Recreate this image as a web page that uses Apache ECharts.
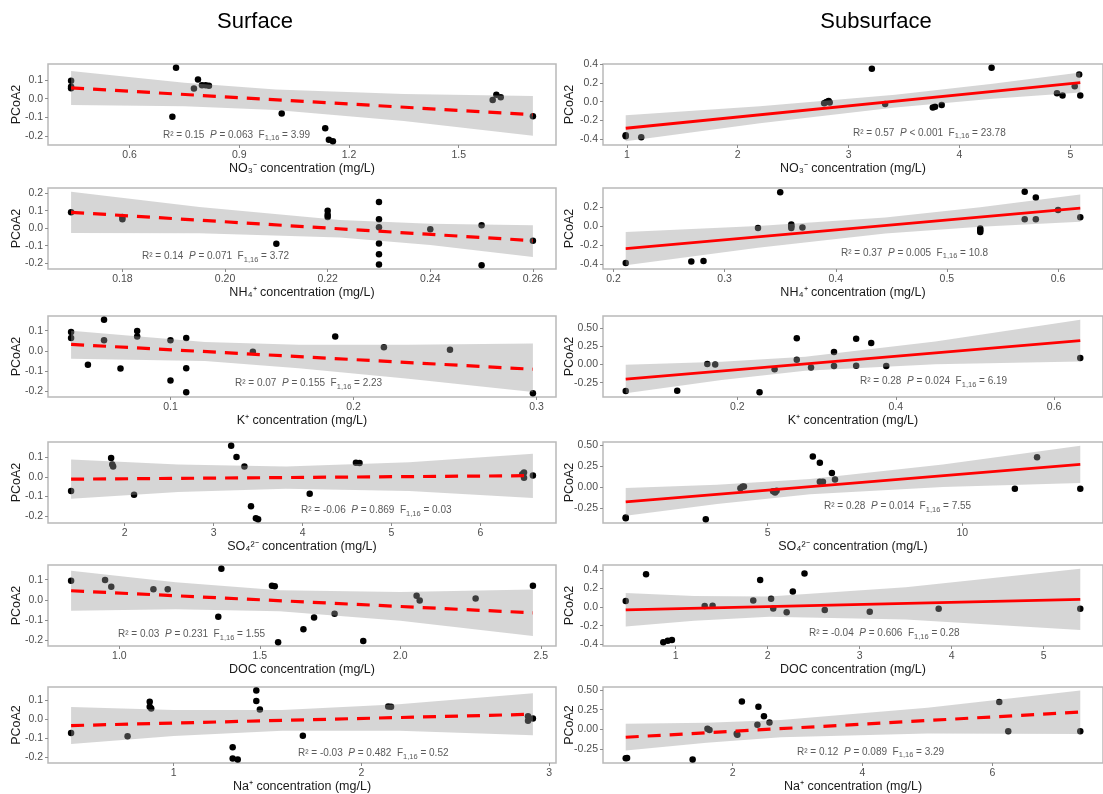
<!DOCTYPE html>
<html>
<head>
<meta charset="utf-8">
<script src="https://cdn.jsdelivr.net/npm/echarts@6.0.0/dist/echarts.min.js"></script>
<style>
  html, body { margin: 0; padding: 0; background: #fff; }
  #chart { width: 1103px; height: 794px; }
</style>
</head>
<body>
<div id="chart"></div>
<script>
// ---- Surface: NO3-
const no3SurfX = [0.44, 0.44, 0.44, 0.717, 0.727, 0.776, 0.787, 0.798, 0.808, 0.817, 1.016, 1.135, 1.145, 1.156, 1.593, 1.603, 1.615, 1.703];
const no3SurfY = [0.095, 0.063, 0.055, -0.096, 0.164, 0.054, 0.102, 0.071, 0.071, 0.068, -0.079, -0.157, -0.218, -0.226, -0.007, 0.02, 0.007, -0.093];
const no3SurfFit = [0.057, -0.085];
const no3SurfBandX = [0.44, 0.75, 1.0, 1.35, 1.703];
const no3SurfBandLo = [-0.033, -0.04, -0.06, -0.118, -0.197];
const no3SurfBandHi = [0.147, 0.084, 0.048, 0.024, 0.014];
const no3SurfXTicks = [0.6, 0.9, 1.2, 1.5];

// ---- Subsurface: NO3-
const no3SubX = [0.99, 0.99, 1.13, 2.78, 2.80, 2.82, 2.83, 3.21, 3.33, 3.76, 3.78, 3.84, 4.29, 4.88, 4.93, 5.04, 5.08, 5.09];
const no3SubY = [-0.36, -0.37, -0.382, -0.018, -0.005, 0.008, -0.01, 0.353, -0.025, -0.062, -0.055, -0.036, 0.364, 0.091, 0.065, 0.164, 0.29, 0.065];
const no3SubFit = [-0.285, 0.205];
const no3SubBandX = [0.99, 2.2, 3.42, 4.3, 5.09];
const no3SubBandLo = [-0.425, -0.232, -0.062, 0.03, 0.097];
const no3SubBandHi = [-0.145, -0.049, 0.074, 0.192, 0.313];
const no3SubXTicks = [1, 2, 3, 4, 5];

// ---- Surface: NH4+
const nh4SurfX = [0.17, 0.18, 0.18, 0.21, 0.22, 0.22, 0.22, 0.23, 0.23, 0.23, 0.23, 0.23, 0.23, 0.24, 0.25, 0.25, 0.26];
const nh4SurfY = [0.091, 0.064, 0.052, -0.089, 0.1, 0.077, 0.064, 0.15, 0.052, 0.006, -0.087, -0.149, -0.207, -0.006, 0.017, -0.212, -0.071];
const nh4SurfFit = [0.091, -0.071];
const nh4SurfBandX = [0.17, 0.195, 0.2224, 0.24, 0.26];
const nh4SurfBandLo = [-0.027, -0.029, -0.053, -0.096, -0.165];
const nh4SurfBandHi = [0.209, 0.121, 0.047, 0.026, 0.017];
const nh4SurfXTicks = [0.18, 0.20, 0.22, 0.24, 0.26];

// ---- Subsurface: NH4+
const nh4SubX = [0.211, 0.27, 0.281, 0.33, 0.35, 0.36, 0.36, 0.36, 0.37, 0.53, 0.53, 0.53, 0.57, 0.57, 0.58, 0.58, 0.60, 0.62];
const nh4SubY = [-0.386, -0.372, -0.365, -0.018, 0.355, 0.018, 0.0, -0.018, -0.014, -0.025, -0.043, -0.061, 0.362, 0.072, 0.3, 0.072, 0.17, 0.094];
const nh4SubFit = [-0.236, 0.189];
const nh4SubBandX = [0.211, 0.33, 0.4446, 0.53, 0.62];
const nh4SubBandLo = [-0.411, -0.2255, -0.078, -0.006, 0.046];
const nh4SubBandHi = [-0.061, 0.0015, 0.092, 0.198, 0.332];
const nh4SubXTicks = [0.2, 0.3, 0.4, 0.5, 0.6];

// ---- Surface: K+
const kSurfX = [0.0457, 0.0457, 0.0549, 0.0637, 0.0637, 0.0727, 0.0818, 0.0818, 0.1, 0.1, 0.1086, 0.1086, 0.1086, 0.145, 0.19, 0.2166, 0.2527, 0.298];
const kSurfY = [0.094, 0.064, -0.069, 0.155, 0.053, -0.088, 0.099, 0.071, 0.053, -0.148, 0.064, -0.087, -0.207, -0.005, 0.071, 0.018, 0.005, -0.212];
const kSurfFit = [0.032, -0.092];
const kSurfBandX = [0.0457, 0.1188, 0.17, 0.23, 0.298];
const kSurfBandLo = [-0.04, -0.0515, -0.0875, -0.14, -0.205];
const kSurfBandHi = [0.1, 0.0437, 0.03, 0.03, 0.036];
const kSurfXTicks = [0.1, 0.2, 0.3];

// ---- Subsurface: K+
const kSubX = [0.059, 0.124, 0.162, 0.172, 0.228, 0.247, 0.275, 0.275, 0.293, 0.322, 0.322, 0.35, 0.35, 0.369, 0.388, 0.633];
const kSubY = [-0.363, -0.359, 0.005, 0.0, -0.382, -0.065, 0.359, 0.065, -0.042, 0.168, -0.023, 0.35, -0.019, 0.293, -0.023, 0.089];
const kSubFit = [-0.2, 0.326];
const kSubBandX = [0.059, 0.18, 0.2856, 0.45, 0.633];
const kSubBandLo = [-0.395, -0.213, -0.088, 0.002, 0.041];
const kSubBandHi = [-0.005, 0.035, 0.103, 0.314, 0.611];
const kSubXTicks = [0.2, 0.4, 0.6];

// ---- Surface: SO4 2-
const so4SurfX = [1.397, 1.847, 1.86, 1.87, 2.105, 3.197, 3.257, 3.346, 3.42, 3.475, 3.5, 4.08, 4.6, 4.64, 6.47, 6.49, 6.49, 6.59];
const so4SurfY = [-0.072, 0.096, 0.063, 0.053, -0.092, 0.159, 0.101, 0.053, -0.15, -0.212, -0.217, -0.087, 0.072, 0.07, 0.013, 0.022, -0.005, 0.007];
const so4SurfFit = [-0.012, 0.006];
const so4SurfBandX = [1.397, 2.6, 3.813, 5.2, 6.59];
const so4SurfBandLo = [-0.112, -0.078, -0.061, -0.073, -0.108];
const so4SurfBandHi = [0.088, 0.063, 0.053, 0.075, 0.118];
const so4SurfXTicks = [2, 3, 4, 5, 6];

// ---- Subsurface: SO4 2-
const so4SubX = [1.354, 1.354, 3.41, 4.30, 4.35, 4.39, 5.14, 5.19, 5.23, 6.16, 6.34, 6.34, 6.42, 6.65, 6.73, 11.35, 11.92, 13.03];
const so4SubY = [-0.359, -0.37, -0.382, -0.012, 0.004, 0.008, -0.048, -0.064, -0.044, 0.363, 0.29, 0.064, 0.064, 0.167, 0.092, -0.02, 0.355, -0.02];
const so4SubFit = [-0.175, 0.271];
const so4SubBandX = [1.354, 3.7, 6.092, 9.5, 13.03];
const so4SubBandLo = [-0.34, -0.199, -0.085, 0.002, 0.05];
const so4SubBandHi = [-0.01, 0.029, 0.097, 0.27, 0.492];
const so4SubXTicks = [5, 10];

// ---- Surface: DOC
const docSurfX = [0.828, 0.949, 0.971, 1.121, 1.172, 1.352, 1.363, 1.543, 1.553, 1.565, 1.655, 1.693, 1.766, 1.868, 2.058, 2.069, 2.268, 2.472];
const docSurfY = [0.095, 0.098, 0.065, 0.053, 0.053, -0.085, 0.155, 0.07, 0.067, -0.212, -0.147, -0.088, -0.07, -0.205, 0.02, -0.003, 0.007, 0.07];
const docSurfFit = [0.045, -0.065];
const docSurfBandX = [0.828, 1.2, 1.57, 2.0, 2.472];
const docSurfBandLo = [-0.055, -0.047, -0.057, -0.105, -0.181];
const docSurfBandHi = [0.145, 0.087, 0.047, 0.039, 0.051];
const docSurfXTicks = [1.0, 1.5, 2.0, 2.5];

// ---- Subsurface: DOC
const docSubX = [0.457, 0.678, 0.865, 0.914, 0.959, 1.315, 1.401, 1.843, 1.918, 2.037, 2.06, 2.206, 2.273, 2.4, 2.62, 3.109, 3.858, 5.397];
const docSubY = [0.065, 0.353, -0.378, -0.36, -0.353, 0.011, 0.014, 0.072, 0.292, 0.09, -0.014, -0.054, 0.169, 0.36, -0.032, -0.05, -0.018, -0.018];
const docSubFit = [-0.029, 0.083];
const docSubBandX = [0.457, 1.2, 2.017, 3.5, 5.397];
const docSubBandLo = [-0.209, -0.145, -0.103, -0.134, -0.247];
const docSubBandHi = [0.151, 0.12, 0.115, 0.214, 0.413];
const docSubXTicks = [1, 2, 3, 4, 5];

// ---- Surface: Na+
const naSurfX = [0.453, 0.754, 0.872, 0.872, 0.88, 1.314, 1.314, 1.341, 1.44, 1.44, 1.459, 1.688, 2.143, 2.158, 2.888, 2.888, 2.914];
const naSurfY = [-0.072, -0.09, 0.093, 0.067, 0.058, -0.148, -0.207, -0.213, 0.153, 0.097, 0.052, -0.087, 0.068, 0.067, 0.017, -0.008, 0.005];
const naSurfFit = [-0.033, 0.027];
const naSurfBandX = [0.453, 1.0, 1.5775, 2.2, 2.914];
const naSurfBandLo = [-0.131, -0.088, -0.06, -0.061, -0.084];
const naSurfBandHi = [0.065, 0.049, 0.049, 0.08, 0.138];
const naSurfXTicks = [1, 2, 3];

// ---- Subsurface: Na+
const naSubX = [0.355, 0.376, 1.385, 1.613, 1.645, 2.064, 2.074, 2.143, 2.382, 2.398, 2.483, 2.568, 6.106, 6.244, 7.353];
const naSubY = [-0.368, -0.364, -0.384, 0.008, -0.008, -0.056, -0.068, 0.356, 0.06, 0.288, 0.168, 0.088, 0.348, -0.024, -0.024];
const naSubFit = [-0.1, 0.22];
const naSubBandX = [0.355, 1.6, 2.746, 5.0, 7.353];
const naSubBandLo = [-0.27, -0.169, -0.101, -0.052, -0.06];
const naSubBandHi = [0.07, 0.083, 0.119, 0.276, 0.495];
const naSubXTicks = [2, 4, 6];

// y tick sets
const yTicksSurf = [-0.2, -0.1, 0, 0.1];
const yTicksSurf2 = [-0.2, -0.1, 0, 0.1, 0.2];
const yTicksSub4 = [-0.4, -0.2, 0, 0.2, 0.4];
const yTicksSub3 = [-0.4, -0.2, 0, 0.2];
const yTicksSubQ = [-0.25, 0, 0.25, 0.5];

// statistics text
const ionNames = ['NO₃⁻', 'NH₄⁺', 'K⁺', 'SO₄²⁻', 'DOC', 'Na⁺'];
const surfR2 = ['0.15', '0.14', '0.07', '-0.06', '0.03', '-0.03'];
const surfP = ['= 0.063', '= 0.071', '= 0.155', '= 0.869', '= 0.231', '= 0.482'];
const surfF = ['3.99', '3.72', '2.23', '0.03', '1.55', '0.52'];
const subR2 = ['0.57', '0.37', '0.28', '0.28', '-0.04', '0.12'];
const subP = ['< 0.001', '= 0.005', '= 0.024', '= 0.014', '= 0.606', '= 0.089'];
const subF = ['23.78', '10.8', '6.19', '7.55', '0.28', '3.29'];

const panels = [
  { x: no3SurfX, y: no3SurfY, fit: no3SurfFit, bx: no3SurfBandX, lo: no3SurfBandLo, hi: no3SurfBandHi, xt: no3SurfXTicks, yt: yTicksSurf, xd: 1, yd: 1, dashed: true },
  { x: no3SubX, y: no3SubY, fit: no3SubFit, bx: no3SubBandX, lo: no3SubBandLo, hi: no3SubBandHi, xt: no3SubXTicks, yt: yTicksSub4, xd: 0, yd: 1, dashed: false },
  { x: nh4SurfX, y: nh4SurfY, fit: nh4SurfFit, bx: nh4SurfBandX, lo: nh4SurfBandLo, hi: nh4SurfBandHi, xt: nh4SurfXTicks, yt: yTicksSurf2, xd: 2, yd: 1, dashed: true },
  { x: nh4SubX, y: nh4SubY, fit: nh4SubFit, bx: nh4SubBandX, lo: nh4SubBandLo, hi: nh4SubBandHi, xt: nh4SubXTicks, yt: yTicksSub3, xd: 1, yd: 1, dashed: false },
  { x: kSurfX, y: kSurfY, fit: kSurfFit, bx: kSurfBandX, lo: kSurfBandLo, hi: kSurfBandHi, xt: kSurfXTicks, yt: yTicksSurf, xd: 1, yd: 1, dashed: true },
  { x: kSubX, y: kSubY, fit: kSubFit, bx: kSubBandX, lo: kSubBandLo, hi: kSubBandHi, xt: kSubXTicks, yt: yTicksSubQ, xd: 1, yd: 2, dashed: false },
  { x: so4SurfX, y: so4SurfY, fit: so4SurfFit, bx: so4SurfBandX, lo: so4SurfBandLo, hi: so4SurfBandHi, xt: so4SurfXTicks, yt: yTicksSurf, xd: 0, yd: 1, dashed: true },
  { x: so4SubX, y: so4SubY, fit: so4SubFit, bx: so4SubBandX, lo: so4SubBandLo, hi: so4SubBandHi, xt: so4SubXTicks, yt: yTicksSubQ, xd: 0, yd: 2, dashed: false },
  { x: docSurfX, y: docSurfY, fit: docSurfFit, bx: docSurfBandX, lo: docSurfBandLo, hi: docSurfBandHi, xt: docSurfXTicks, yt: yTicksSurf, xd: 1, yd: 1, dashed: true },
  { x: docSubX, y: docSubY, fit: docSubFit, bx: docSubBandX, lo: docSubBandLo, hi: docSubBandHi, xt: docSubXTicks, yt: yTicksSub4, xd: 0, yd: 1, dashed: false },
  { x: naSurfX, y: naSurfY, fit: naSurfFit, bx: naSurfBandX, lo: naSurfBandLo, hi: naSurfBandHi, xt: naSurfXTicks, yt: yTicksSurf, xd: 0, yd: 1, dashed: true },
  { x: naSubX, y: naSubY, fit: naSubFit, bx: naSubBandX, lo: naSubBandLo, hi: naSubBandHi, xt: naSubXTicks, yt: yTicksSubQ, xd: 0, yd: 2, dashed: true }
];

// layout (right column panels run past the picture's right edge, as in the original crop)
const FONT = '"Liberation Sans", Arial, sans-serif';
const rowTops = [64, 188, 316, 442, 565, 687];
const rowH = 81;
const colLeft = [48, 603];
const colW = [508, 511];
// stat label: x in px, y as a fraction of the panel height
const noteX = [163, 853, 142, 841, 235, 860, 301, 824, 118, 809, 298, 797];
const noteFy = [0.875, 0.85, 0.84, 0.80, 0.83, 0.81, 0.84, 0.79, 0.86, 0.84, 0.82, 0.80];

const pad = (v) => v.max - v.min;
const grids = [], xAxes = [], yAxes = [], series = [], graphics = [];

panels.forEach((p, i) => {
  const col = i % 2, row = Math.floor(i / 2);
  grids.push({
    left: colLeft[col], top: rowTops[row], width: colW[col], height: rowH,
    show: true, borderColor: '#b9b9b9', borderWidth: 1.5, backgroundColor: 'transparent'
  });
  xAxes.push({
    type: 'value', gridIndex: i,
    min: (v) => v.min - 0.05 * pad(v),
    max: (v) => v.max + 0.05 * pad(v),
    axisLine: { show: false, onZero: false },
    splitLine: { show: false },
    axisTick: { show: true, length: 3, lineStyle: { color: '#8c8c8c' }, customValues: p.xt },
    axisLabel: { customValues: p.xt, formatter: (v) => v.toFixed(p.xd), color: '#4d4d4d', fontSize: 10.5, margin: 5, fontFamily: FONT },
    name: ionNames[row] + ' concentration (mg/L)',
    nameLocation: 'middle', nameGap: 17, nameMoveOverlap: false,
    nameTextStyle: { color: '#1a1a1a', fontSize: 12.5, fontFamily: FONT }
  });
  yAxes.push({
    type: 'value', gridIndex: i,
    min: (v) => v.min - 0.05 * pad(v),
    max: (v) => v.max + 0.05 * pad(v),
    axisLine: { show: false, onZero: false },
    splitLine: { show: false },
    axisTick: { show: true, length: 3, lineStyle: { color: '#8c8c8c' }, customValues: p.yt },
    axisLabel: { customValues: p.yt, formatter: (v) => v.toFixed(p.yd), color: '#4d4d4d', fontSize: 10.5, margin: 5, fontFamily: FONT },
    name: 'PCoA2', nameLocation: 'middle', nameGap: col === 0 ? 25 : 27, nameMoveOverlap: false,
    nameTextStyle: { color: '#1a1a1a', fontSize: 12.5, fontFamily: FONT }
  });

  // points (under the band, as in the original)
  series.push({
    type: 'scatter', xAxisIndex: i, yAxisIndex: i, z: 2, silent: true,
    symbolSize: 6.5, itemStyle: { color: '#000', opacity: 1 },
    data: p.x.map((v, k) => [v, p.y[k]])
  });
  // confidence band
  series.push({
    type: 'custom', xAxisIndex: i, yAxisIndex: i, z: 3, silent: true,
    data: p.bx.map((v, k) => [v, p.lo[k], p.hi[k]]),
    encode: { x: 0, y: [1, 2] },
    renderItem: (params, api) => {
      if (params.dataIndex !== 0) return null;
      const top = p.bx.map((v, k) => api.coord([v, p.hi[k]]));
      const bot = p.bx.map((v, k) => api.coord([v, p.lo[k]])).reverse();
      return { type: 'polygon', shape: { points: top.concat(bot) }, style: { fill: 'rgba(153,153,153,0.4)' } };
    }
  });
  // fitted line
  series.push({
    type: 'line', xAxisIndex: i, yAxisIndex: i, z: 4, silent: true,
    symbol: 'none',
    data: [[p.bx[0], p.fit[0]], [p.bx[p.bx.length - 1], p.fit[1]]],
    lineStyle: p.dashed ? { color: '#ff0000', width: 3.2, type: [13, 9] } : { color: '#ff0000', width: 2.8 }
  });

  const r2 = col === 0 ? surfR2[row] : subR2[row];
  const pv = col === 0 ? surfP[row] : subP[row];
  const fv = col === 0 ? surfF[row] : subF[row];
  graphics.push({
    type: 'text', x: noteX[i], y: rowTops[row] + noteFy[i] * rowH, silent: true,
    style: {
      text: '{n|R² = ' + r2 + '  }{i|P}{n| ' + pv + '  F}{s|1,16}{n| = ' + fv + '}',
      verticalAlign: 'middle',
      rich: {
        n: { fontSize: 10, fill: '#5a5a5a', fontFamily: FONT, lineHeight: 15 },
        i: { fontSize: 10, fill: '#5a5a5a', fontFamily: FONT, fontStyle: 'italic', lineHeight: 15 },
        s: { fontSize: 7.5, fill: '#5a5a5a', fontFamily: FONT, lineHeight: 8, verticalAlign: 'bottom' }
      }
    }
  });
});

graphics.push({ type: 'text', x: 255, y: 22, style: { text: 'Surface', fontSize: 22, fill: '#000', fontFamily: FONT, align: 'center', verticalAlign: 'middle' } });
graphics.push({ type: 'text', x: 876, y: 22, style: { text: 'Subsurface', fontSize: 22, fill: '#000', fontFamily: FONT, align: 'center', verticalAlign: 'middle' } });

const chart = echarts.init(document.getElementById('chart'), null, { renderer: 'canvas' });
chart.setOption({
  animation: false,
  backgroundColor: '#fff',
  textStyle: { fontFamily: FONT },
  grid: grids,
  xAxis: xAxes,
  yAxis: yAxes,
  series: series,
  graphic: graphics
});
</script>
</body>
</html>
